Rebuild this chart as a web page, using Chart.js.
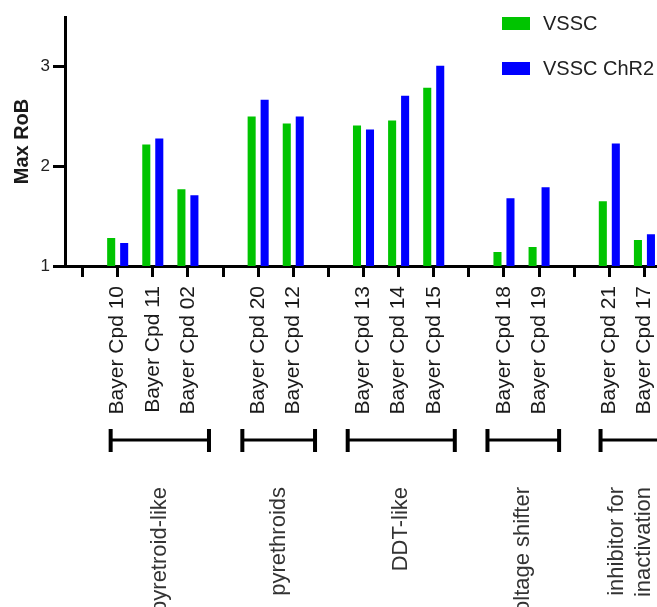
<!DOCTYPE html>
<html>
<head>
<meta charset="utf-8">
<script src="https://cdn.jsdelivr.net/npm/chart.js@4.4.0/dist/chart.umd.min.js"></script>
<style>
    html, body { margin: 0; padding: 0; background: #fff; overflow: hidden; }
    #wrap { width: 657px; height: 607px; overflow: hidden; }
</style>
</head>
<body>
<div id="wrap"><canvas id="chart" width="662" height="607"></canvas></div>
<script>
// 資料
const categories = ['', 'Bayer Cpd 10', 'Bayer Cpd 11', 'Bayer Cpd 02', '', 'Bayer Cpd 20', 'Bayer Cpd 12', '',
    'Bayer Cpd 13', 'Bayer Cpd 14', 'Bayer Cpd 15', '', 'Bayer Cpd 18', 'Bayer Cpd 19', '', 'Bayer Cpd 21', 'Bayer Cpd 17'];
const vssc = [null, 1.28, 2.22, 1.77, null, 2.50, 2.43, null, 2.41, 2.46, 2.79, null, 1.14, 1.19, null, 1.65, 1.26];
const vsscChR2 = [null, 1.23, 2.28, 1.71, null, 2.67, 2.50, null, 2.37, 2.71, 3.01, null, 1.68, 1.79, null, 2.23, 1.32];
const yTicks = [1, 2, 3];
const seriesNames = ['VSSC', 'VSSC ChR2'];
const groupNames = [['pyretroid-like'], ['pyrethroids'], ['DDT-like'], ['voltage shifter'], ['inhibitor for', 'inactivation']];
const groupFirst = [1, 5, 8, 12, 15];
const groupLast = [3, 6, 10, 13, 16];

const colors = ['#00c400', '#0000ff'];

// 括號與分組文字
const groupPlugin = {
    id: 'groups',
    afterDraw(chart) {
        const ctx = chart.ctx;
        const x = chart.scales.x;
        const step = x.getPixelForValue(1) - x.getPixelForValue(0);
        const startOff = [-0.2, -0.45, -0.45, -0.47, -0.25];
        const endOff = [0.6, 0.62, 0.6, 0.57, 0.45];
        ctx.save();
        groupNames.forEach((lines, i) => {
            const x0 = x.getPixelForValue(groupFirst[i]) + startOff[i] * step;
            const x1 = x.getPixelForValue(groupLast[i]) + endOff[i] * step;
            ctx.strokeStyle = '#000';
            ctx.lineWidth = 3;
            ctx.beginPath();
            ctx.moveTo(x0, 440);
            ctx.lineTo(x1, 440);
            ctx.stroke();
            ctx.lineWidth = 4;
            ctx.beginPath();
            ctx.moveTo(x0, 429);
            ctx.lineTo(x0, 452);
            ctx.moveTo(x1, 429);
            ctx.lineTo(x1, 452);
            ctx.stroke();

            const cx = (x0 + x1) / 2;
            const lh = 27;
            ctx.fillStyle = '#333';
            ctx.font = '22px "Liberation Sans", Arial, sans-serif';
            ctx.textAlign = 'right';
            ctx.textBaseline = 'middle';
            lines.forEach((t, j) => {
                const lx = cx + (j - (lines.length - 1) / 2) * lh;
                ctx.save();
                ctx.translate(lx, 487);
                ctx.rotate(-Math.PI / 2);
                ctx.fillText(t, 0, 0);
                ctx.restore();
            });
        });

        // 圖例
        ctx.font = '20px "Liberation Sans", Arial, sans-serif';
        ctx.textAlign = 'left';
        ctx.textBaseline = 'middle';
        seriesNames.forEach((name, i) => {
            const y = 17 + i * 45;
            ctx.fillStyle = colors[i];
            ctx.fillRect(502, y, 28, 13);
            ctx.fillStyle = '#222';
            ctx.fillText(name, 543, y + 7);
        });
        ctx.restore();
    }
};

new Chart(document.getElementById('chart'), {
    type: 'bar',
    data: {
        labels: categories,
        datasets: [{
            label: seriesNames[0],
            data: vssc,
            backgroundColor: colors[0]
        }, {
            label: seriesNames[1],
            data: vsscChR2,
            backgroundColor: colors[1]
        }]
    },
    options: {
        responsive: false,
        animation: false,
        categoryPercentage: 0.74,
        barPercentage: 0.62,
        layout: { padding: { top: 17, left: 0, right: 0, bottom: 0 } },
        plugins: {
            legend: { display: false },
            tooltip: { enabled: false }
        },
        scales: {
            x: {
                offset: true,
                grid: {
                    offset: false,
                    drawOnChartArea: false,
                    color: '#000',
                    lineWidth: 3,
                    tickLength: 11
                },
                border: { color: '#000', width: 3 },
                ticks: {
                    autoSkip: false,
                    minRotation: 90,
                    maxRotation: 90,
                    padding: 9,
                    color: '#1a1a1a',
                    font: { family: '"Liberation Sans", Arial, sans-serif', size: 21 }
                },
                afterFit(scale) {
                    scale.height = 341;
                    scale.paddingLeft = 0;
                    scale.paddingRight = 0;
                }
            },
            y: {
                min: 1,
                max: 3.5,
                grid: {
                    drawOnChartArea: false,
                    color: '#000',
                    lineWidth: 3,
                    tickLength: 12
                },
                border: { color: '#000', width: 3 },
                ticks: {
                    includeBounds: false,
                    padding: 3,
                    color: '#222',
                    font: { family: '"Liberation Sans", Arial, sans-serif', size: 17 }
                },
                afterBuildTicks(scale) { scale.ticks = yTicks.map(v => ({ value: v })); },
                title: {
                    display: true,
                    text: 'Max RoB',
                    color: '#1a1a1a',
                    padding: { top: 10, bottom: 0 },
                    font: { family: '"Liberation Sans", Arial, sans-serif', size: 20, weight: 'bold' }
                },
                afterFit(scale) {
                    scale.width = 65;
                    scale.paddingTop = 0;
                    scale.paddingBottom = 0;
                }
            }
        }
    },
    plugins: [groupPlugin]
});
</script>
</body>
</html>
